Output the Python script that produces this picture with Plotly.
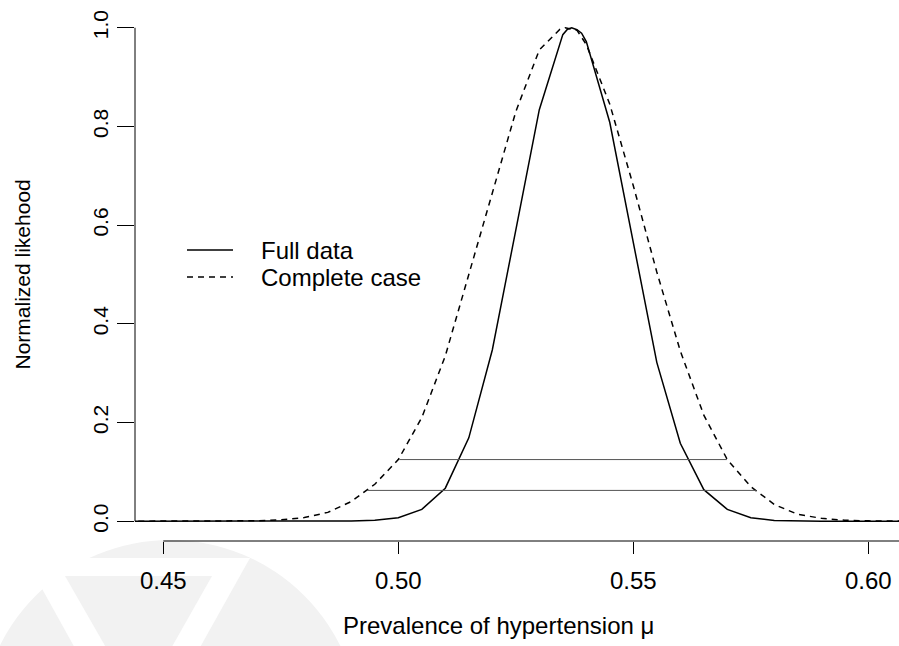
import plotly.graph_objects as go

# ---------------- data ----------------
mu_full = [0.440, 0.445, 0.450, 0.455, 0.460, 0.465, 0.470, 0.475, 0.480, 0.485,
           0.490, 0.495, 0.500, 0.505, 0.510, 0.515, 0.520, 0.525, 0.530, 0.535,
           0.536, 0.5369, 0.538, 0.539, 0.540, 0.545, 0.550, 0.555, 0.560, 0.565,
           0.570, 0.575, 0.580, 0.585, 0.590, 0.595, 0.600, 0.605, 0.610]
lik_full = [0.0, 0.0, 0.0, 0.0, 0.0, 0.0, 0.0, 0.0, 0.0, 0.0,
            0.0005, 0.002, 0.007, 0.024, 0.067, 0.169, 0.347, 0.590, 0.834, 0.986,
            0.997, 1.0, 0.996, 0.989, 0.972, 0.808, 0.565, 0.322, 0.158, 0.064,
            0.024, 0.007, 0.0015, 0.0003, 0.0, 0.0, 0.0, 0.0, 0.0]

mu_cc = [0.440, 0.445, 0.450, 0.455, 0.460, 0.465, 0.470, 0.475, 0.480, 0.485,
         0.490, 0.495, 0.500, 0.505, 0.510, 0.515, 0.520, 0.525, 0.530, 0.5323,
         0.5344, 0.5355, 0.538, 0.540, 0.545, 0.550, 0.555, 0.560, 0.565, 0.570,
         0.575, 0.580, 0.585, 0.590, 0.595, 0.600, 0.605, 0.610]
lik_cc = [0.0, 0.0, 0.0, 0.0, 0.0001, 0.0003, 0.001, 0.003, 0.0075, 0.018,
          0.040, 0.075, 0.125, 0.210, 0.335, 0.500, 0.665, 0.830, 0.955, 0.976,
          0.997, 1.0, 0.995, 0.966, 0.845, 0.680, 0.505, 0.345, 0.215, 0.125,
          0.070, 0.034, 0.014, 0.006, 0.002, 0.0008, 0.0002, 0.0]

# likelihood-interval cut lines
cut_levels = [0.125, 0.0625]
cut_lower = [0.5002, 0.4934]
cut_upper = [0.5699, 0.5761]

x_ticks = [0.45, 0.50, 0.55, 0.60]
x_tick_text = ["0.45", "0.50", "0.55", "0.60"]
y_ticks = [0.0, 0.2, 0.4, 0.6, 0.8, 1.0]
y_tick_text = ["0.0", "0.2", "0.4", "0.6", "0.8", "1.0"]

legend_labels = ["Full data", "Complete case"]
x_title = "Prevalence of hypertension \u03bc"
y_title = "Normalized likehood"

x_range = [0.44398, 0.60653]
y_range = [-0.04, 1.04]

# ---------------- figure ----------------
W, H = 899, 646
ML, MR, MT, MB = 135, 0, 8, 105
PW, PH = W - ML - MR, H - MT - MB


def px2paper_x(px):
    return (px - ML) / PW


def px2paper_y(py):
    return (H - MB - py) / PH


FONT = "Liberation Sans, Arial, sans-serif"

fig = go.Figure()

# watermark (faint logo in the lower-left corner)
fig.add_shape(type="circle", xref="paper", yref="paper", layer="below",
              x0=px2paper_x(-20), x1=px2paper_x(360),
              y0=px2paper_y(920), y1=px2paper_y(540),
              fillcolor="#f2f2f2", line=dict(width=0))
fig.add_shape(type="path", xref="paper", yref="paper", layer="below",
              path="M {:.4f},{:.4f} L {:.4f},{:.4f} L {:.4f},{:.4f} Z".format(
                  px2paper_x(25), px2paper_y(558), px2paper_x(250), px2paper_y(558),
                  px2paper_x(137), px2paper_y(760)),
              fillcolor="white", line=dict(width=0))
fig.add_shape(type="path", xref="paper", yref="paper", layer="below",
              path="M {:.4f},{:.4f} L {:.4f},{:.4f} L {:.4f},{:.4f} Z".format(
                  px2paper_x(65), px2paper_y(576), px2paper_x(212), px2paper_y(576),
                  px2paper_x(139), px2paper_y(705)),
              fillcolor="#f2f2f2", line=dict(width=0))

fig.add_trace(go.Scatter(x=mu_full, y=lik_full, mode="lines", name=legend_labels[0],
                         line=dict(color="black", width=1.5), showlegend=False))
fig.add_trace(go.Scatter(x=mu_cc, y=lik_cc, mode="lines", name=legend_labels[1],
                         line=dict(color="black", width=1.5, dash="6px,5px"),
                         showlegend=False))
for lev, lo, hi in zip(cut_levels, cut_lower, cut_upper):
    fig.add_trace(go.Scatter(x=[lo, hi], y=[lev, lev], mode="lines",
                             line=dict(color="#555555", width=1), showlegend=False,
                             hoverinfo="skip"))

# R-style axis lines (span only the tick range)
fig.add_shape(type="line", xref="paper", yref="y", x0=0, x1=0,
              y0=y_ticks[0], y1=y_ticks[-1], line=dict(color="black", width=1))
fig.add_shape(type="line", xref="x", yref="paper", x0=x_ticks[0], x1=x_range[1],
              y0=0, y1=0, line=dict(color="black", width=1))

# legend drawn R-style
leg_y = [px2paper_y(250), px2paper_y(277)]
leg_dash = ["solid", "6px,5px"]
for lab, yy, dd in zip(legend_labels, leg_y, leg_dash):
    fig.add_shape(type="line", xref="paper", yref="paper",
                  x0=px2paper_x(187), x1=px2paper_x(233), y0=yy, y1=yy,
                  line=dict(color="black", width=1.5, dash=dd))
    fig.add_annotation(xref="paper", yref="paper", x=px2paper_x(259), y=yy,
                       text=lab, showarrow=False, xanchor="left", yanchor="middle",
                       font=dict(family=FONT, size=24, color="black"))

fig.add_annotation(xref="paper", yref="paper", x=px2paper_x(498), y=px2paper_y(625),
                   text=x_title, showarrow=False, xanchor="center", yanchor="middle",
                   font=dict(family=FONT, size=24, color="black"))
fig.add_annotation(xref="paper", yref="paper", x=px2paper_x(22), y=0.5,
                   text=y_title, showarrow=False, xanchor="center", yanchor="middle",
                   textangle=-90, font=dict(family=FONT, size=21, color="black"))

fig.update_xaxes(range=x_range, tickvals=x_ticks, ticktext=x_tick_text,
                 ticks="outside", ticklen=12, tickwidth=1, tickcolor="black",
                 showline=False, showgrid=False, zeroline=False,
                 ticklabelstandoff=6,
                 tickfont=dict(family=FONT, size=24, color="black"))
fig.update_yaxes(range=y_range, tickvals=y_ticks, ticktext=y_tick_text,
                 ticks="outside", ticklen=17, tickwidth=1, tickcolor="black",
                 showline=False, showgrid=False, zeroline=False, tickangle=-90,
                 ticklabelstandoff=1,
                 tickfont=dict(family=FONT, size=21, color="black"))

fig.update_layout(width=W, height=H,
                  margin=dict(l=ML, r=MR, t=MT, b=MB, pad=0),
                  paper_bgcolor="white", plot_bgcolor="rgba(0,0,0,0)",
                  showlegend=False)

fig.write_html("out.html", config={"displayModeBar": False},
               post_script="document.body.style.margin='0px';document.body.style.padding='0px';")
